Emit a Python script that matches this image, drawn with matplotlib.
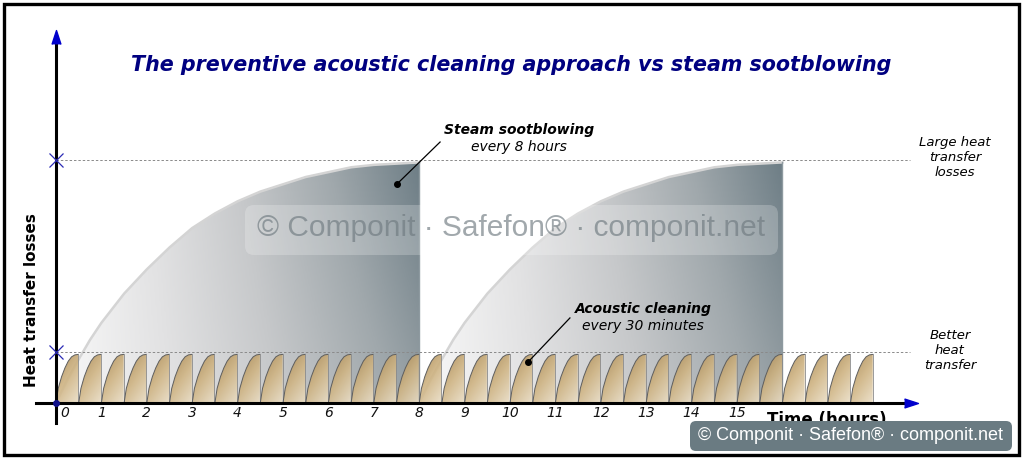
import numpy as np
import matplotlib
matplotlib.use('Agg')
import matplotlib.pyplot as plt
from matplotlib.path import Path
from matplotlib.patches import PathPatch, FancyBboxPatch, Rectangle
from matplotlib.colors import LinearSegmentedColormap

# ---- data ----
hour_ticks = list(range(16))                      # 0 .. 15
steam_starts = [0, 8]                             # sootblowing every 8 hours
steam_t = [0, 0.25, 0.5, 0.75, 1, 1.25, 1.5, 2, 2.5, 3, 3.5, 4, 4.5, 5, 5.5, 6,
           6.5, 7, 7.5, 8]
steam_loss = [0, 0.095, 0.18, 0.26, 0.33, 0.39, 0.45, 0.55, 0.64, 0.72, 0.78,
              0.83, 0.87, 0.90, 0.93, 0.95, 0.97, 0.98, 0.985, 0.99]
clean_starts = np.arange(0, 18, 0.5)              # acoustic cleaning every 30 min
hump_t = [0, 0.1, 0.25, 0.4, 0.55, 0.7, 0.85, 1.0]        # fraction of 30 min
hump_loss = [0, 0.30, 0.54, 0.72, 0.86, 0.95, 0.99, 1.0]  # fraction of hump top
hump_top = 0.20
level_large = 1.0
level_better = 0.21

W, H = 1024, 458
fig = plt.figure(figsize=(W / 100, H / 100), dpi=100)
ax = fig.add_axes([0, 0, 1, 1])
ax.axis('off')

steam_cmap = LinearSegmentedColormap.from_list(
    'steam', ['#f8f8f8', '#e2e2e3', '#c6c8ca', '#a0a8ac', '#6e7e86'])
hump_cmap = LinearSegmentedColormap.from_list('hump', ['#ebdfc8', '#cfb483', '#a6844e'])

gx, gy = np.meshgrid(np.linspace(0, 1, 128), np.linspace(0, 1, 128))


def grad_poly(xs, ys, val, cmap, extent, z, alpha=1.0):
    verts = list(zip(xs, ys)) + [(xs[0], ys[0])]
    patch = PathPatch(Path(verts, closed=True), fc='none', ec='none')
    ax.add_patch(patch)
    im = ax.imshow(val, extent=extent, origin='lower', cmap=cmap, vmin=0, vmax=1,
                   aspect='auto', zorder=z, alpha=alpha, interpolation='bilinear')
    im.set_clip_path(patch)


# steam sootblowing curves
for s in steam_starts:
    xs = [s + t for t in steam_t] + [s + 8]
    ys = steam_loss + [0]
    grad_poly(xs, ys, gx * (0.8 + 0.2 * gy), steam_cmap, (s, s + 8, 0, 1), 1)
    ax.plot([s + t for t in steam_t], steam_loss, color='#d4d4d4', lw=1.8, zorder=1.5)
    ax.plot([s + 8, s + 8], [0, steam_loss[-1]], color='#8e9aa0', lw=1, zorder=1.5)

# acoustic cleaning humps
hw = 0.49
for s in clean_starts:
    xs = [s + t * hw for t in hump_t] + [s + hw]
    ys = [v * hump_top for v in hump_loss] + [0]
    grad_poly(xs, ys, 0.6 * gy + 0.4 * (1 - gx), hump_cmap, (s, s + hw, 0, hump_top), 2,
              alpha=0.9)
    ax.plot(xs[:-1], ys[:-1], color='#5e5e5e', lw=0.7, zorder=2.5)
    ax.plot([s + hw, s + hw], [0, hump_top], color='#8a8a8a', lw=0.6, zorder=2.5)

# reference levels
for lv in [level_large, level_better]:
    ax.plot([0, 18.8], [lv, lv], color='#8a8a8a', lw=0.7, ls=(0, (2.5, 2)), zorder=3)
    ax.plot(0, lv, marker='x', ms=10, mew=0.9, color='#2b2bb5', zorder=6)

# axes with arrows
ax.plot([-0.44, 18.85], [0, 0], color='black', lw=2.2, zorder=5)
ax.plot([0, 0], [-0.082, 1.5], color='black', lw=2.2, zorder=5)
ax.plot(18.84, 0, marker=[(-1, -0.65), (1, 0), (-1, 0.65)], ms=10, color='#0000cc', zorder=6)
ax.plot(0, 1.505, marker=[(-0.65, -1), (0, 1), (0.65, -1)], ms=10, color='#0000cc', zorder=6)
ax.plot(0, 0, marker='o', ms=4, color='#10108a', zorder=6)

for h in hour_ticks:
    ax.text(h + (0.2 if h == 0 else 0), -0.041, str(h), ha='center', va='center',
            style='italic', fontsize=10, color='#111111')

# annotations
ax.plot([8.46, 7.51], [1.074, 0.901], color='black', lw=0.9, zorder=7)
ax.plot(7.51, 0.901, marker='o', ms=4, color='black', zorder=7)
ax.text(10.2, 1.123, 'Steam sootblowing', ha='center', va='center', fontsize=10,
        weight='bold', style='italic', zorder=7)
ax.text(10.2, 1.053, 'every 8 hours', ha='center', va='center', fontsize=10,
        style='italic', zorder=7)
ax.plot([11.32, 10.40], [0.35, 0.169], color='black', lw=0.9, zorder=7)
ax.plot(10.40, 0.169, marker='o', ms=4, color='black', zorder=7)
ax.text(12.93, 0.387, 'Acoustic cleaning', ha='center', va='center', fontsize=10,
        weight='bold', style='italic', zorder=7)
ax.text(12.93, 0.317, 'every 30 minutes', ha='center', va='center', fontsize=10,
        style='italic', zorder=7)

ax.text(19.8, 1.012, 'Large heat\ntransfer\nlosses', ha='center', va='center',
        fontsize=9.5, style='italic', linespacing=1.2)
ax.text(19.69, 0.214, 'Better\nheat\ntransfer', ha='center', va='center',
        fontsize=9.5, style='italic', linespacing=1.2)

ax.set_xlim(-56 / 45.4, (W - 56) / 45.4)
ax.set_ylim((403 - H) / 243, 403 / 243)

fig.text(511 / W, 1 - 65 / H, 'The preventive acoustic cleaning approach vs steam sootblowing',
         ha='center', va='center', fontsize=14.9, weight='bold', style='italic', color='#000080')
fig.text(32 / W, 1 - 300 / H, 'Heat transfer losses', rotation=90, ha='center', va='center',
         fontsize=11, weight='bold')
fig.text(827 / W, 1 - 420 / H, 'Time (hours)', ha='center', va='center', fontsize=12, weight='bold')

# watermarks
wm = '© Componit · Safefon® · componit.net'
fig.add_artist(FancyBboxPatch((245, H - 255), 533, 50, boxstyle='round,pad=0,rounding_size=9',
                              transform=None, fc='white', alpha=0.22, ec='none', zorder=10))
fig.text(511 / W, 1 - 228 / H, wm, ha='center', va='center', fontsize=21.5,
         family='Liberation Sans', color='#6f7a80', alpha=0.65, zorder=11)
fig.add_artist(FancyBboxPatch((690, H - 451), 322, 30, boxstyle='round,pad=0,rounding_size=6',
                              transform=None, fc='#6a7b82', ec='none', zorder=10))
fig.text(851 / W, 1 - 436 / H, wm, ha='center', va='center', fontsize=13,
         family='Liberation Sans', color='white', zorder=11)

fig.add_artist(Rectangle((3.5 / W, 3.5 / H), 1015 / W, 451 / H, transform=fig.transFigure,
                         fill=False, ec='black', lw=2.4, zorder=12))

fig.savefig('out.png', dpi=100)
